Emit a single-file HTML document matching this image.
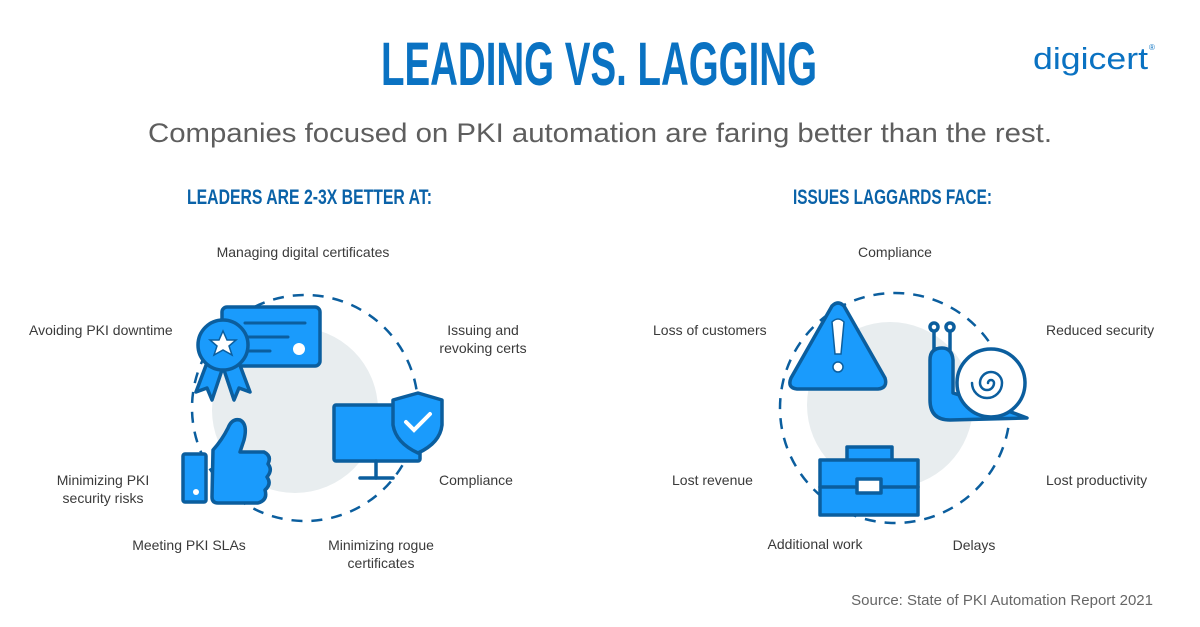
<!DOCTYPE html>
<html><head><meta charset="utf-8"><style>
html,body{margin:0;padding:0;background:#fff}
svg{display:block}
text{font-family:"Liberation Sans",sans-serif}
.l{font-size:14px;fill:#3a3a3a}
</style></head><body>
<svg width="1200" height="627" viewBox="0 0 1200 627" xmlns="http://www.w3.org/2000/svg">
<text x="381" y="85" font-size="61" font-weight="bold" fill="#0a72c2" textLength="436" lengthAdjust="spacingAndGlyphs">LEADING VS. LAGGING</text>
<text x="1033" y="69" font-size="31" fill="#0a72c2" textLength="115" lengthAdjust="spacingAndGlyphs">digicert</text>
<text x="1149" y="50" font-size="8" fill="#0a72c2">®</text>
<text x="148" y="142" font-size="27" fill="#5e5e5e" textLength="904" lengthAdjust="spacingAndGlyphs">Companies focused on PKI automation are faring better than the rest.</text>
<text x="187" y="204" font-size="21" font-weight="bold" fill="#0a62a8" textLength="245" lengthAdjust="spacingAndGlyphs">LEADERS ARE 2-3X BETTER AT:</text>
<text x="793" y="204" font-size="21" font-weight="bold" fill="#0a62a8" textLength="199" lengthAdjust="spacingAndGlyphs">ISSUES LAGGARDS FACE:</text>

<!-- left -->
<circle cx="295" cy="410" r="83" fill="#e8edef"/>
<circle cx="305" cy="408" r="113" fill="none" stroke="#0b5e9e" stroke-width="2.5" stroke-dasharray="11 9"/>
<g stroke="#0b5e9e" stroke-width="3.5" stroke-linejoin="round" stroke-linecap="round" fill="#1a9bfc">
<rect x="222" y="307" width="98" height="59" rx="5"/>
<line x1="245" y1="323" x2="305" y2="323" stroke-width="3"/>
<line x1="245" y1="337" x2="288" y2="337" stroke-width="3"/>
<line x1="245" y1="351" x2="270" y2="351" stroke-width="3"/>
<polygon points="208,360 196,392 207,388 212,400 222,370"/>
<polygon points="238,360 250,392 239,388 234,400 224,370"/>
<circle cx="223" cy="345" r="25"/>
<rect x="334" y="405" width="86" height="56" rx="2"/>
<line x1="376" y1="461" x2="376" y2="478"/>
<line x1="360" y1="478" x2="393" y2="478"/>
<path d="M393,400 L418,393 L442,400 L442,425 Q440,443 418,453 Q396,443 393,425 Z"/>
<rect x="183" y="454" width="23" height="48" rx="2"/>
<path d="M213,450 Q222,440 228,428 Q232,418 240,420 Q248,424 244,440 L240,452 L264,452 Q272,456 268,464 Q273,470 267,477 Q272,484 265,490 Q268,500 258,503 L218,503 Q212,503 212,497 Z"/>
</g>
<circle cx="299" cy="349" r="6" fill="#fff"/>
<circle cx="196" cy="492" r="3" fill="#fff"/>
<polygon points="223,331 227,340 236,340 229,346 232,355 223,350 214,355 217,346 210,340 219,340" fill="#fff" stroke="#0b5e9e" stroke-width="1.5"/>
<polyline points="406,422 414,430 430,414" fill="none" stroke="#fff" stroke-width="4" stroke-linecap="round"/>

<!-- right -->
<circle cx="890" cy="405" r="83" fill="#e8edef"/>
<circle cx="895" cy="408" r="115" fill="none" stroke="#0b5e9e" stroke-width="2.5" stroke-dasharray="11 9"/>
<g stroke="#0b5e9e" stroke-width="3.5" stroke-linejoin="round" stroke-linecap="round" fill="#1a9bfc">
<path d="M832,306 Q838,300 844,306 L885,378 Q888,388 878,389 L797,389 Q787,388 791,378 Z"/>
<rect x="847" y="447" width="45" height="14"/>
<rect x="820" y="460" width="98" height="55"/>
<line x1="820" y1="487" x2="918" y2="487"/>
<rect x="857" y="479" width="24" height="14" fill="#fff"/>
<line x1="934" y1="350" x2="934" y2="330" fill="none"/>
<line x1="950" y1="350" x2="950" y2="330" fill="none"/>
<circle cx="934" cy="327" r="4" fill="#fff"/>
<circle cx="950" cy="327" r="4" fill="#fff"/>
<path d="M930,360 Q930,348 942,348 Q952,348 953,360 L953,393 L1000,408 L1027,418 L950,420 Q930,420 930,400 Z"/>
<circle cx="991" cy="383" r="34" fill="#fff"/>
<path d="M991,383 m-3,0 a3,3 0 1,1 6,0 a7,7 0 1,1 -14,0 a11,11 0 1,1 22,0 a15,15 0 1,1 -30,0" fill="none" stroke-width="2.5"/>
</g>
<path d="M832,322 Q838,316 844,322 L841,354 L835,354 Z" fill="#fff" stroke="#0b5e9e" stroke-width="1.5"/>
<circle cx="838" cy="367" r="5" fill="#fff" stroke="#0b5e9e" stroke-width="1.5"/>

<!-- labels -->
<text class="l" x="303" y="257" text-anchor="middle">Managing digital certificates</text>
<text class="l" x="29" y="335">Avoiding PKI downtime</text>
<text class="l" x="483" y="335" text-anchor="middle">Issuing and</text>
<text class="l" x="483" y="353" text-anchor="middle">revoking certs</text>
<text class="l" x="476" y="485" text-anchor="middle">Compliance</text>
<text class="l" x="103" y="485" text-anchor="middle">Minimizing PKI</text>
<text class="l" x="103" y="503" text-anchor="middle">security risks</text>
<text class="l" x="189" y="550" text-anchor="middle">Meeting PKI SLAs</text>
<text class="l" x="381" y="550" text-anchor="middle">Minimizing rogue</text>
<text class="l" x="381" y="568" text-anchor="middle">certificates</text>
<text class="l" x="895" y="257" text-anchor="middle">Compliance</text>
<text class="l" x="653" y="335">Loss of customers</text>
<text class="l" x="1046" y="335">Reduced security</text>
<text class="l" x="672" y="485">Lost revenue</text>
<text class="l" x="1046" y="485">Lost productivity</text>
<text class="l" x="815" y="549" text-anchor="middle">Additional work</text>
<text class="l" x="974" y="550" text-anchor="middle">Delays</text>
<text x="1153" y="605" font-size="15" fill="#666" text-anchor="end">Source: State of PKI Automation Report 2021</text>
</svg>
</body></html>
